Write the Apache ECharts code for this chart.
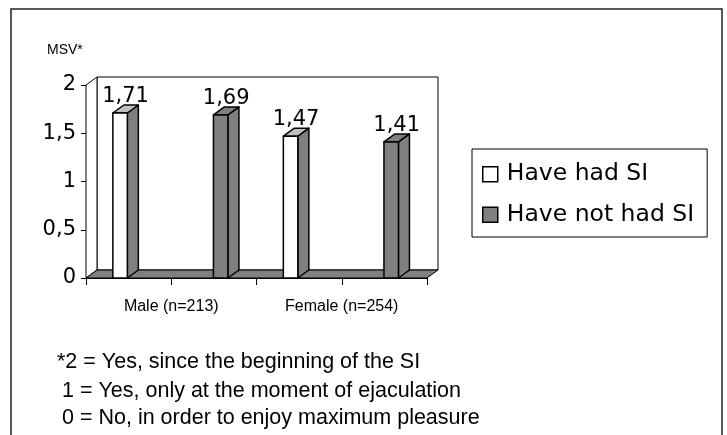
<!DOCTYPE html>
<html><head><meta charset="utf-8">
<script src="https://cdn.jsdelivr.net/npm/echarts@6/dist/echarts.min.js"></script>
<style>html,body{margin:0;padding:0;background:#fff}#c{width:727px;height:435px}</style>
</head><body><div id="c"></div>
<script>
// ---- data ----
const categories = ['Male (n=213)', 'Female (n=254)'];
const seriesNames = ['Have had SI', 'Have not had SI'];
const hadSI = [1.71, 1.47];
const notHadSI = [1.69, 1.41];
const yTickLabels = ['0', '0,5', '1', '1,5', '2'];
const yAxisTitle = 'MSV*';
const footnotes = [
  '*2 = Yes, since the beginning of the SI',
  '1 = Yes, only at the moment of ejaculation',
  '0 = No, in order to enjoy maximum pleasure'
];

// ---- style constants ----
const DX = 11, DY = -8;
const GRAY = '#808080';
const fmt = v => String(v).replace('.', ',');

function renderFrame(params, api) {
  const cs = params.coordSys;
  const x0 = cs.x, x1 = cs.x + cs.width;
  const y0 = api.coord([0, 2])[1], y1 = api.coord([0, 0])[1];
  const st = (fill) => ({fill: fill, stroke: '#000', lineWidth: 1});
  return {type: 'group', children: [
    {type: 'polygon', shape: {points: [[x0+DX, y0+DY], [x1+DX, y0+DY], [x1+DX, y1+DY], [x0+DX, y1+DY]]}, style: st('#fff')},
    {type: 'polygon', shape: {points: [[x0, y0], [x0+DX, y0+DY], [x0+DX, y1+DY], [x0, y1]]}, style: st('#fff')},
    {type: 'polygon', shape: {points: [[x0, y1], [x0+DX, y1+DY], [x1+DX, y1+DY], [x1, y1]]}, style: st(GRAY)}
  ]};
}

function makeBar(shiftFrac, front, side, topc) {
  return function (params, api) {
    const ci = api.value(0), v = api.value(1);
    const bw = api.size([1, 0])[0];
    const pt = api.coord([ci, v]);
    const base = api.coord([ci, 0]);
    const cx = pt[0] + shiftFrac * bw;
    const w = bw * 0.085;
    const xl = cx - w / 2, xr = cx + w / 2, yt = pt[1], yb = base[1];
    const st = (fill) => ({fill: fill, stroke: '#000', lineWidth: 1.5, lineJoin: 'round'});
    return {type: 'group', children: [
      {type: 'polygon', shape: {points: [[xr, yt], [xr+DX, yt+DY], [xr+DX, yb+DY], [xr, yb]]}, style: st(side)},
      {type: 'polygon', shape: {points: [[xl, yt], [xl+DX, yt+DY], [xr+DX, yt+DY], [xr, yt]]}, style: st(topc)},
      {type: 'rect', shape: {x: xl, y: yt, width: w, height: yb - yt}, style: st(front)},
      {type: 'text', x: cx + DX / 2, y: yt + DY + 2,
        style: {text: fmt(v), align: 'center', verticalAlign: 'bottom', fontSize: 21, fontFamily: 'DejaVu Sans', fill: '#000'}}
    ]};
  };
}

const chart = echarts.init(document.getElementById('c'), null, {renderer: 'canvas'});
chart.setOption({
  animation: false,
  backgroundColor: '#fff',
  grid: {left: 86, right: 300, top: 85, bottom: 157, containLabel: false},
  xAxis: [
    {type: 'category', data: categories, position: 'bottom', boundaryGap: true,
      axisLine: {show: true, lineStyle: {color: '#000', width: 1}},
      axisTick: {show: false},
      axisLabel: {margin: 21, fontSize: 16, fontFamily: 'Liberation Sans', color: '#000'}},
    {type: 'category', data: ['', '', '', ''], position: 'bottom', boundaryGap: true,
      axisLine: {show: false}, axisLabel: {show: false},
      axisTick: {show: true, length: 7, lineStyle: {color: '#000', width: 1}}}
  ],
  yAxis: {type: 'value', min: 0, max: 2, interval: 0.5,
    axisLine: {show: true, lineStyle: {color: '#000', width: 1}},
    axisTick: {show: true, length: 5, lineStyle: {color: '#000'}},
    splitLine: {show: false},
    axisLabel: {margin: 10, fontSize: 21, fontFamily: 'DejaVu Sans', color: '#000',
      formatter: (v) => yTickLabels[Math.round(v / 0.5)]}},
  legend: {
    orient: 'vertical', left: 472, top: 149,
    padding: [13, 13, 10, 10], itemGap: 16, itemWidth: 15, itemHeight: 15,
    borderColor: '#000', borderWidth: 1, backgroundColor: '#fff',
    textStyle: {fontSize: 23.5, lineHeight: 24.5, fontFamily: 'DejaVu Sans', color: '#000', padding: [0, 0, 0, 4]},
    data: [
      {name: seriesNames[0], icon: 'rect', itemStyle: {color: '#fff', borderColor: '#000', borderWidth: 1.5}},
      {name: seriesNames[1], icon: 'rect', itemStyle: {color: GRAY, borderColor: '#000', borderWidth: 1.5}}
    ]
  },
  graphic: [
    {type: 'rect', shape: {x: 11, y: 9, width: 711, height: 450}, style: {fill: 'none', stroke: '#222', lineWidth: 1.5}, silent: true},
    {type: 'text', x: 47, y: 50, style: {text: yAxisTitle, fontSize: 14, fontFamily: 'Liberation Sans', fill: '#000', verticalAlign: 'middle'}},
    {type: 'text', x: 57, y: 362, style: {text: footnotes[0], fontSize: 21.5, fontFamily: 'Liberation Sans', fill: '#000', verticalAlign: 'middle'}},
    {type: 'text', x: 62, y: 391, style: {text: footnotes[1], fontSize: 21.5, fontFamily: 'Liberation Sans', fill: '#000', verticalAlign: 'middle'}},
    {type: 'text', x: 62, y: 418, style: {text: footnotes[2], fontSize: 21.5, fontFamily: 'Liberation Sans', fill: '#000', verticalAlign: 'middle'}}
  ],
  series: [
    {type: 'custom', name: 'frame', renderItem: renderFrame, data: [[0, 0]], z: 1, silent: true, clip: false},
    {type: 'custom', name: seriesNames[0], renderItem: makeBar(-0.30, '#fff', GRAY, '#c0c0c0'),
      itemStyle: {color: '#fff'}, data: categories.map((c, i) => [i, hadSI[i]]), z: 3, clip: false},
    {type: 'custom', name: seriesNames[1], renderItem: makeBar(0.29, GRAY, GRAY, GRAY),
      itemStyle: {color: GRAY}, data: categories.map((c, i) => [i, notHadSI[i]]), z: 3, clip: false}
  ]
});
</script></body></html>
